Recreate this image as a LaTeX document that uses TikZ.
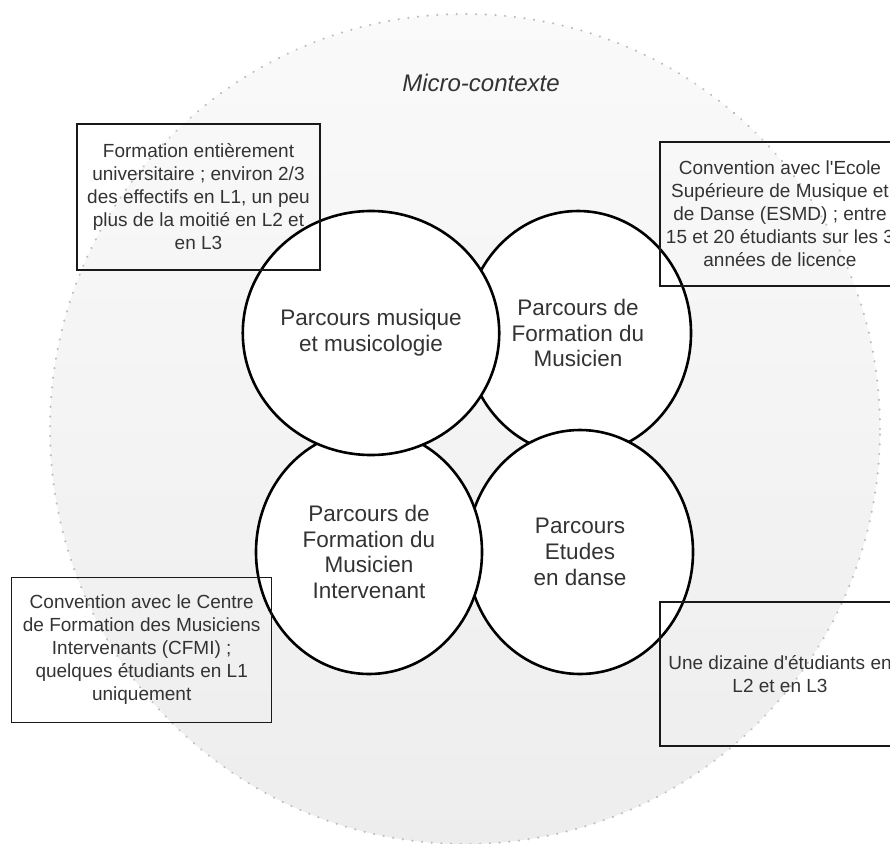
\documentclass[tikz,border=0pt]{standalone}
\usepackage{fontspec}
\setmainfont{Liberation Sans}
\usetikzlibrary{shapes.geometric}
\definecolor{txt}{HTML}{333333}
\definecolor{ring}{HTML}{BDBDBD}
\begin{document}
\begin{tikzpicture}[x=1pt,y=-1pt,
  parc/.style={ellipse, draw=black, line width=2.6pt, fill=white,
    minimum width=226pt, minimum height=244pt, inner sep=0pt, align=center,
    text=txt, font=\fontsize{22.5}{25.7}\selectfont},
  note/.style={draw=black!90, line width=1.4pt, align=center, text=txt,
    inner sep=0pt, font=\fontsize{19}{23}\selectfont},
]
\useasboundingbox (0,0) rectangle (890,843);
\clip (0,0) rectangle (890,843);
\node[circle, minimum size=830pt, inner sep=0pt,
  top color=white!98!black, bottom color=white!93!black,
  draw=ring, line width=2.4pt, line cap=round,
  dash pattern=on 0.01pt off 9.7pt] (ctx) at (465,429) {};
\node[text=txt, font=\fontsize{24}{28}\selectfont\itshape] (title) at (481,83) {Micro-contexte};

\node[parc] (tr) at (578,333) {Parcours de\\Formation du\\Musicien};
\node[parc] (br) at (580,552) {Parcours\\Etudes\\en danse};
\node[parc] (bl) at (369,552) {Parcours de\\Formation du\\Musicien\\Intervenant};
\node[parc] (tl) at (371,333) {Parcours musique\\et musicologie};

\node[note, minimum width=243pt, minimum height=146pt] (n1) at (198.5,197)
  {Formation entièrement\\universitaire ; environ 2/3\\des effectifs en L1, un peu\\plus de la moitié en L2 et\\en L3};
\node[note, minimum width=240pt, minimum height=144pt] (n2) at (780,214)
  {Convention avec l\textquotesingle Ecole\\Supérieure de Musique et\\de Danse (ESMD) ; entre\\15 et 20 étudiants sur les 3\\années de licence};
\node[note, minimum width=260pt, minimum height=145pt] (n3) at (141.7,650)
  {Convention avec le Centre\\de Formation des Musiciens\\Intervenants (CFMI) ;\\quelques étudiants en L1\\uniquement};
\node[note, minimum width=240pt, minimum height=144pt] (n4) at (780,674)
  {Une dizaine d\textquotesingle étudiants en\\L2 et en L3};
\end{tikzpicture}
\end{document}
